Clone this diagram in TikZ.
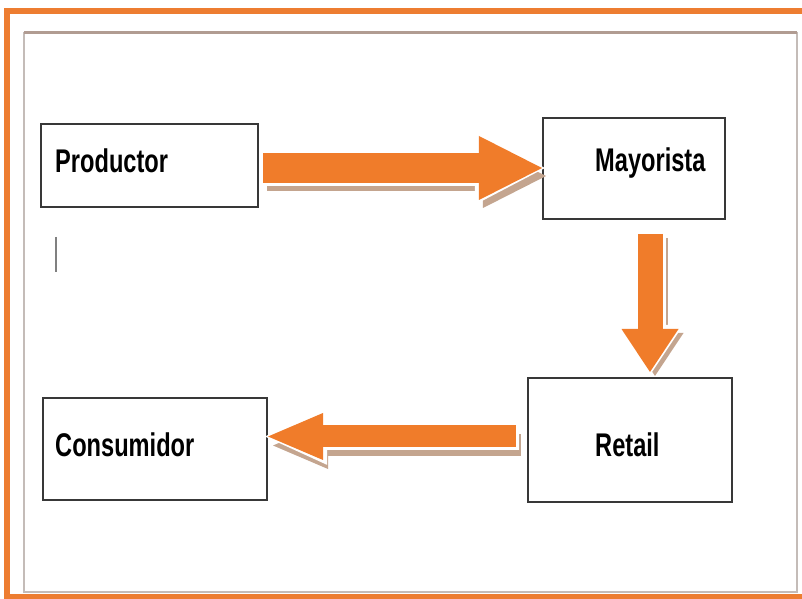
\documentclass[tikz,border=0pt]{standalone}
\usepackage{fontspec}
\newfontfamily\boxfont[FakeStretch=0.72]{Liberation Sans}
\usetikzlibrary{arrows.meta}

\definecolor{frameorange}{HTML}{ED7D31}
\definecolor{floworange}{HTML}{F07C2A}
\definecolor{shadowtan}{HTML}{C4A58F}
\definecolor{innergray}{HTML}{C4BCB8}
\definecolor{innertan}{HTML}{B19C92}

\tikzset{
	box/.style = {draw = black!78, line width = 0.06cm, inner sep = 0pt},
	boxtext/.style = {font = \boxfont\bfseries\fontsize{28}{30}\selectfont, inner sep = 0pt, anchor = base west},
	flow/.style n args = {3}{line width = #1, -{Triangle[width = #2, length = #3, line width = 0pt]}},
}

\begin{document}
\begin{tikzpicture}[x = 0.03cm, y = -0.03cm]
	\fill[white] (0,0) rectangle (802,599);
	\useasboundingbox (0,0) rectangle (802,599);
	
	% frames
	\draw[frameorange, line width = 0.16cm] (810,597) -- (7,597) -- (7,11) -- (810,11);
	\draw[innergray, line width = 0.06cm] (24,33) rectangle (797,592);
	\draw[innertan, line width = 0.09cm] (24,33) -- (797,33);
	
	% boxes
	\node[box, minimum width = 6.51cm, minimum height = 2.49cm] (prod) at (149.5,165.5) {};
	\node[box, minimum width = 5.46cm, minimum height = 3.03cm] (may) at (634,168.5) {};
	\node[box, minimum width = 6.12cm, minimum height = 3.72cm] (ret) at (630,440) {};
	\node[box, minimum width = 6.72cm, minimum height = 3.06cm] (cons) at (155,449) {};
	
	\node[boxtext] (prodtext) at (55,173) {Productor};
	\node[boxtext] (maytext) at (595,172) {Mayorista};
	\node[boxtext] (rettext) at (595,457) {Retail};
	\node[boxtext] (constext) at (55,457) {Consumidor};
	
	\draw[gray, line width = 0.045cm] (56,237) -- (56,272);
	
	% Productor -> Mayorista
	\draw[flow = {0.9cm}{1.92cm}{1.89cm}, shadowtan, transform canvas = {shift = {(4,8)}}] ([shift = {(4,2.5)}]prod.east) -- ([shift = {(0,-0.5)}]may.west);
	\draw[flow = {1.08cm}{2.2cm}{2.1cm}, white, shorten < = -0.09cm, shorten > = -0.09cm] ([shift = {(4,2.5)}]prod.east) -- ([shift = {(0,-0.5)}]may.west);
	\draw[flow = {0.9cm}{1.92cm}{1.89cm}, floworange] ([shift = {(4,2.5)}]prod.east) -- ([shift = {(0,-0.5)}]may.west);
	
	% Mayorista -> Retail
	\draw[flow = {0.75cm}{1.71cm}{1.29cm}, shadowtan, transform canvas = {shift = {(5,4)}}] ([shift = {(16,14)}]may.south) -- ([shift = {(20,-5)}]ret.north);
	\draw[flow = {0.93cm}{2.0cm}{1.5cm}, white, shorten < = -0.09cm, shorten > = -0.09cm] ([shift = {(16,14)}]may.south) -- ([shift = {(20,-5)}]ret.north);
	\draw[flow = {0.75cm}{1.71cm}{1.29cm}, floworange] ([shift = {(16,14)}]may.south) -- ([shift = {(20,-5)}]ret.north);
	
	% Retail -> Consumidor
	\draw[flow = {0.66cm}{1.41cm}{1.65cm}, shadowtan, transform canvas = {shift = {(5,9)}}] ([shift = {(-11,-3.5)}]ret.west) -- ([shift = {(0,-12.5)}]cons.east);
	\draw[flow = {0.84cm}{1.7cm}{1.86cm}, white, shorten < = -0.09cm, shorten > = -0.09cm] ([shift = {(-11,-3.5)}]ret.west) -- ([shift = {(0,-12.5)}]cons.east);
	\draw[flow = {0.66cm}{1.41cm}{1.65cm}, floworange] ([shift = {(-11,-3.5)}]ret.west) -- ([shift = {(0,-12.5)}]cons.east);
\end{tikzpicture}
\end{document}
